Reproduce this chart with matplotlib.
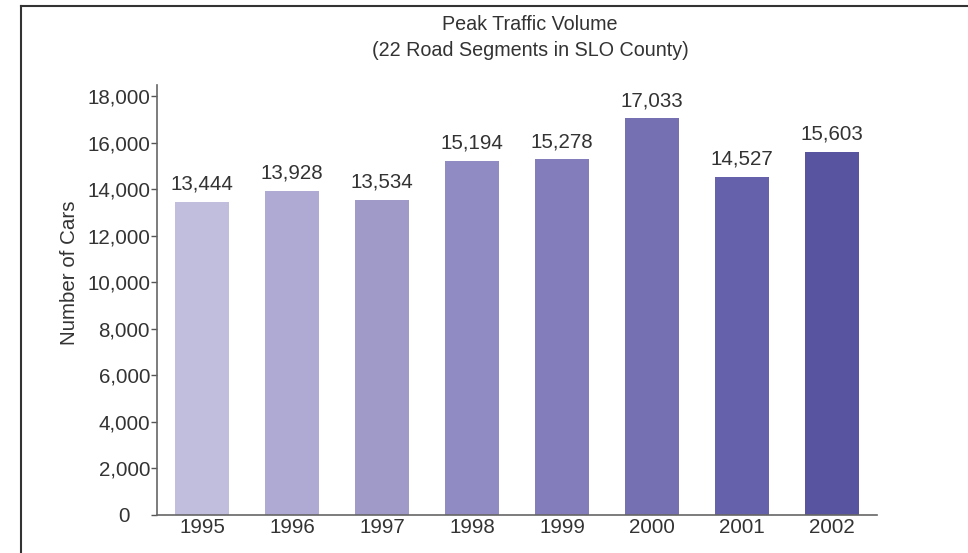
import matplotlib
matplotlib.use("Agg")
import matplotlib.pyplot as plt
from matplotlib.lines import Line2D
import matplotlib.transforms as mtransforms

years = ["1995", "1996", "1997", "1998", "1999", "2000", "2001", "2002"]
cars = [13444, 13928, 13534, 15194, 15278, 17033, 14527, 15603]
colors = ["#c1bedd", "#afaad3", "#a09ac9", "#908bc3", "#837dbb", "#7570b2", "#6661ab", "#5954a0"]
yticks = [0, 2000, 4000, 6000, 8000, 10000, 12000, 14000, 16000, 18000]
title_lines = ["Peak Traffic Volume", "(22 Road Segments in SLO County)"]
ylabel = "Number of Cars"

plt.rcParams['font.family'] = ['Liberation Sans', 'DejaVu Sans']
txt = "#333333"
fs = 14.8

fig = plt.figure(figsize=(9.68, 5.53), dpi=100)
ax = fig.add_axes([157/968, 1-515/553, (877-157)/968, (515-85)/553])

x = list(range(len(years)))
bars = ax.bar(x, cars, width=0.6, color=colors)
for xi, v in zip(x, cars):
    ax.annotate(f"{v:,}", (xi, v), xytext=(0, 6), textcoords="offset points",
                ha="center", va="bottom", fontsize=fs, color=txt)

ax.set_xlim(-0.5, 7.5)
ax.set_ylim(0, 18472)
ax.set_yticks(yticks)
ax.set_yticklabels([f"{t:,}" for t in yticks])
ax.set_xticks(x)
ax.set_xticklabels(years)
ax.tick_params(axis='y', length=4, width=1, color="#555555", pad=1, labelsize=fs, labelcolor=txt)
ax.tick_params(axis='x', length=0, pad=2, labelsize=fs, labelcolor=txt)
# the "0" label sits further left in the reference
zero_lbl = ax.get_yticklabels()[0]
zero_lbl.set_transform(zero_lbl.get_transform() + mtransforms.ScaledTranslation(-20/100, 0, fig.dpi_scale_trans))
for s in ["top", "right"]:
    ax.spines[s].set_visible(False)
for s in ["left", "bottom"]:
    ax.spines[s].set_color("#666666")
    ax.spines[s].set_linewidth(1.2)

ax.set_ylabel(ylabel, fontsize=fs, color=txt)
ax.yaxis.set_label_coords(-(157-79)/720, (515-273)/430)

fig.text(530/968, 1-25/553, title_lines[0], ha="center", va="center", fontsize=14.2, color=txt)
fig.text(530/968, 1-50/553, title_lines[1], ha="center", va="center", fontsize=14.2, color=txt)

# frame border (top and left visible)
fig.add_artist(Line2D([21/968, 21/968], [0, 1-6/553], color="#333333", lw=1.5, transform=fig.transFigure))
fig.add_artist(Line2D([21/968, 1], [1-6/553, 1-6/553], color="#333333", lw=1.5, transform=fig.transFigure))

fig.savefig("out.png", dpi=100)
